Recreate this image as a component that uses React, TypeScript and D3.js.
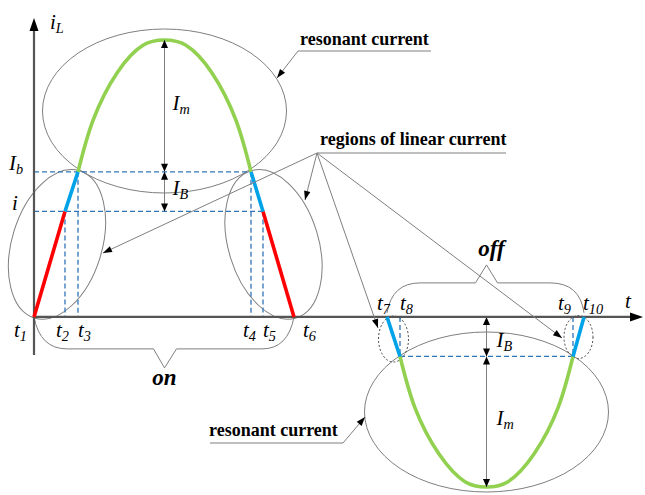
import React from "react";
import * as d3 from "d3";

const WIDTH = 645;
const HEIGHT = 495;
const SERIF = '"Liberation Serif", "Times New Roman", serif';

// switching instants t1..t10 (time units)
const instants = [0, 31, 44, 217, 229, 260, 353, 366, 539, 550];
const instantNames = ["1", "2", "3", "4", "5", "6", "7", "8", "9", "10"];

// current levels (normalised)
const levelIb = 1.1;
const levelI = 0.8;
const levelOff = -0.3;

// resonant arcs: [t, iL]
const onArc: [number, number][] = [
  [44, 1.1], [59, 1.49], [83, 1.85], [109, 2.06], [130.5, 2.1],
  [152, 2.06], [178, 1.85], [202, 1.49], [217, 1.1],
];
const offArc: [number, number][] = [
  [366, -0.3], [381, -0.69], [405, -1.04], [431, -1.25], [452.5, -1.29],
  [474, -1.25], [500, -1.04], [524, -0.69], [539, -0.3],
];

// linear current pieces
const redPieces: [number, number][][] = [
  [[instants[0], 0], [instants[1], levelI]],
  [[instants[4], levelI], [instants[5], 0]],
];
const bluePieces: [number, number][][] = [
  [[instants[1], levelI], [instants[2], levelIb]],
  [[instants[3], levelIb], [instants[4], levelI]],
  [[instants[6], 0], [instants[7], levelOff]],
  [[instants[8], levelOff], [instants[9], 0]],
];

const x = d3.scaleLinear().domain([0, 610]).range([34, 644]);
const y = d3.scaleLinear().domain([-1.29, 2.1]).range([487, 40]);

const GREEN = "#92d050";
const RED = "#ff0000";
const BLUE = "#00a2e8";
const DASH = "#2e75b6";
const GREY = "#7f7f7f";
const AXIS = "#555555";

function head(tx: number, ty: number, fx: number, fy: number, len = 9, half = 3.2) {
  const dx = tx - fx;
  const dy = ty - fy;
  const d = Math.hypot(dx, dy) || 1;
  const ux = dx / d;
  const uy = dy / d;
  const bx = tx - ux * len;
  const by = ty - uy * len;
  return `${tx},${ty} ${bx - uy * half},${by + ux * half} ${bx + uy * half},${by - ux * half}`;
}

const Leader = ({ x1, y1, x2, y2 }: { x1: number; y1: number; x2: number; y2: number }) => (
  <g>
    <line x1={x1} y1={y1} x2={x2} y2={y2} stroke={GREY} strokeWidth={1} />
    <polygon points={head(x2, y2, x1, y1)} fill="#000" />
  </g>
);

const Dim = ({ px, ya, yb }: { px: number; ya: number; yb: number }) => (
  <g>
    <line x1={px} y1={ya} x2={px} y2={yb} stroke={GREY} strokeWidth={1} />
    <polygon points={head(px, ya, px, yb, 8, 3.5)} fill="#000" />
    <polygon points={head(px, yb, px, ya, 8, 3.5)} fill="#000" />
  </g>
);

const Sub = ({ px, py, main, sub, size = 21 }: { px: number; py: number; main: string; sub: string; size?: number }) => (
  <text x={px} y={py} fontFamily={SERIF} fontStyle="italic" fontSize={size}>
    {main}
    <tspan fontSize={size * 0.68} dy={4}>{sub}</tspan>
  </text>
);

const App = () => {
  const line = d3.line<[number, number]>().x((d) => x(d[0])).y((d) => y(d[1]));
  const arc = d3.line<[number, number]>().x((d) => x(d[0])).y((d) => y(d[1])).curve(d3.curveNatural);

  const y0 = y(0);
  const tx = instants.map((t) => x(t));
  const peakOn = x(onArc[4][0]);
  const peakOff = x(offArc[4][0]);
  const labelDx = [-20, -9, 0, -8, 0, 9, -10, 0, -15, -1];

  // braces under "on" and over "off"
  const onBrace = `M${tx[0]},${y0} Q${tx[0] + 6},${y0 + 32} ${tx[0] + 33},${y0 + 32} L${peakOn - 11},${y0 + 32} L${peakOn},${y0 + 51} L${peakOn + 12},${y0 + 32} L${tx[5] - 32},${y0 + 32} Q${tx[5] - 6},${y0 + 32} ${tx[5]},${y0}`;
  const offBrace = `M${tx[6]},${y0 - 4} Q${tx[6] + 5},${y0 - 34} ${tx[6] + 33},${y0 - 34} L${peakOff - 11},${y0 - 34} L${peakOff},${y0 - 52} L${peakOff + 11},${y0 - 34} L${tx[9] - 34},${y0 - 34} Q${tx[9] - 4},${y0 - 34} ${tx[9]},${y0 - 4}`;

  const leftMid = [(tx[0] + tx[2]) / 2, (y0 + y(levelIb)) / 2];
  const rightMid = [(tx[3] + tx[5]) / 2, (y0 + y(levelIb)) / 2];

  return (
    <svg width={WIDTH} height={HEIGHT} style={{ position: "absolute", left: 0, top: 0 }}>
      <rect width={WIDTH} height={HEIGHT} fill="#fff" />

      {/* grey outline ellipses */}
      <g fill="none" stroke={GREY} strokeWidth={1}>
        <ellipse cx={peakOn} cy={111} rx={122} ry={82} />
        <ellipse cx={peakOff} cy={412} rx={122} ry={80} />
        <ellipse cx={leftMid[0] + 1} cy={leftMid[1]} rx={45} ry={77} transform={`rotate(17 ${leftMid[0] + 1} ${leftMid[1]})`} />
        <ellipse cx={rightMid[0] + 1} cy={rightMid[1]} rx={45} ry={77} transform={`rotate(-17 ${rightMid[0] + 1} ${rightMid[1]})`} />
        <path d={onBrace} />
        <path d={offBrace} />
      </g>
      <g fill="none" stroke="#333" strokeWidth={0.9} strokeDasharray="2 2">
        <ellipse cx={(tx[6] + tx[7]) / 2} cy={339} rx={15} ry={23} />
        <ellipse cx={(tx[8] + tx[9]) / 2} cy={337} rx={14.5} ry={21.5} />
      </g>

      {/* dashed guides */}
      <g stroke={DASH} strokeWidth={1.3} strokeDasharray="5 3" fill="none">
        <line x1={x(0)} x2={tx[3]} y1={y(levelIb)} y2={y(levelIb)} />
        <line x1={x(0)} x2={tx[4]} y1={y(levelI)} y2={y(levelI)} />
        <line x1={tx[7]} x2={tx[8]} y1={y(levelOff)} y2={y(levelOff)} />
        <line x1={tx[1]} x2={tx[1]} y1={y(levelI)} y2={y0} />
        <line x1={tx[2]} x2={tx[2]} y1={y(levelIb)} y2={y0} />
        <line x1={tx[3]} x2={tx[3]} y1={y(levelIb)} y2={y0} />
        <line x1={tx[4]} x2={tx[4]} y1={y(levelI)} y2={y0} />
        <line x1={tx[7]} x2={tx[7]} y1={y0} y2={y(levelOff)} />
        <line x1={tx[8]} x2={tx[8]} y1={y0} y2={y(levelOff)} />
      </g>

      {/* axes */}
      <line x1={x(0)} y1={355} x2={x(0)} y2={28} stroke={AXIS} strokeWidth={2.2} />
      <polygon points={head(x(0), 18, x(0), 40, 13, 4.5)} fill="#000" />
      <line x1={x(0)} y1={y0} x2={633} y2={y0} stroke={AXIS} strokeWidth={2.2} />
      <polygon points={head(643, y0, 600, y0, 13, 4.5)} fill="#000" />

      {/* current waveform */}
      <g fill="none" strokeWidth={3.6} strokeLinecap="butt">
        <path d={arc(onArc) ?? ""} stroke={GREEN} />
        <path d={arc(offArc) ?? ""} stroke={GREEN} />
        {redPieces.map((p, i) => (
          <path key={`r${i}`} d={line(p) ?? ""} stroke={RED} />
        ))}
        {bluePieces.map((p, i) => (
          <path key={`b${i}`} d={line(p) ?? ""} stroke={BLUE} />
        ))}
      </g>

      {/* dimension arrows */}
      <Dim px={peakOn} ya={y(onArc[4][1])} yb={y(levelIb)} />
      <Dim px={peakOn} ya={y(levelIb)} yb={y(levelI)} />
      <Dim px={peakOff} ya={y0} yb={y(levelOff)} />
      <Dim px={peakOff} ya={y(levelOff)} yb={y(offArc[4][1])} />

      {/* leaders */}
      <line x1={298} y1={51} x2={431} y2={51} stroke={GREY} strokeWidth={1} />
      <Leader x1={298} y1={51} x2={277} y2={78} />
      <line x1={317} y1={153} x2={506} y2={153} stroke={GREY} strokeWidth={1} />
      <Leader x1={317} y1={153} x2={103} y2={253} />
      <Leader x1={317} y1={153} x2={305} y2={200} />
      <Leader x1={317} y1={153} x2={378} y2={328} />
      <Leader x1={317} y1={153} x2={562} y2={338} />
      <line x1={210} y1={443} x2={343} y2={443} stroke={GREY} strokeWidth={1} />
      <Leader x1={343} y1={443} x2={365} y2={417} />

      {/* bold annotations */}
      <g fontFamily={SERIF} fontWeight="bold" fontSize={18}>
        <text x={300} y={45}>resonant current</text>
        <text x={320} y={145}>regions of linear current</text>
        <text x={209} y={436}>resonant current</text>
      </g>
      <g fontFamily={SERIF} fontWeight="bold" fontStyle="italic" fontSize={23} textAnchor="middle">
        <text x={peakOn} y={385}>on</text>
        <text x={peakOff + 5} y={256}>off</text>
      </g>

      {/* italic math labels */}
      <Sub px={50} py={29} main="i" sub="L" />
      <Sub px={9} py={170} main="I" sub="b" />
      <text x={12} y={210} fontFamily={SERIF} fontStyle="italic" fontSize={21}>i</text>
      <Sub px={peakOn + 8} py={110} main="I" sub="m" />
      <Sub px={peakOn + 8} py={195} main="I" sub="B" />
      <Sub px={peakOff + 10} py={347} main="I" sub="B" />
      <Sub px={peakOff + 10} py={425} main="I" sub="m" />
      <text x={625} y={308} fontFamily={SERIF} fontStyle="italic" fontSize={21}>t</text>
      {instants.map((t, i) => (
        <Sub
          key={instantNames[i]}
          px={x(t) + labelDx[i]}
          py={i < 6 ? y0 + 20 : y0 - 7}
          main="t"
          sub={instantNames[i]}
        />
      ))}
    </svg>
  );
};

export default App;
